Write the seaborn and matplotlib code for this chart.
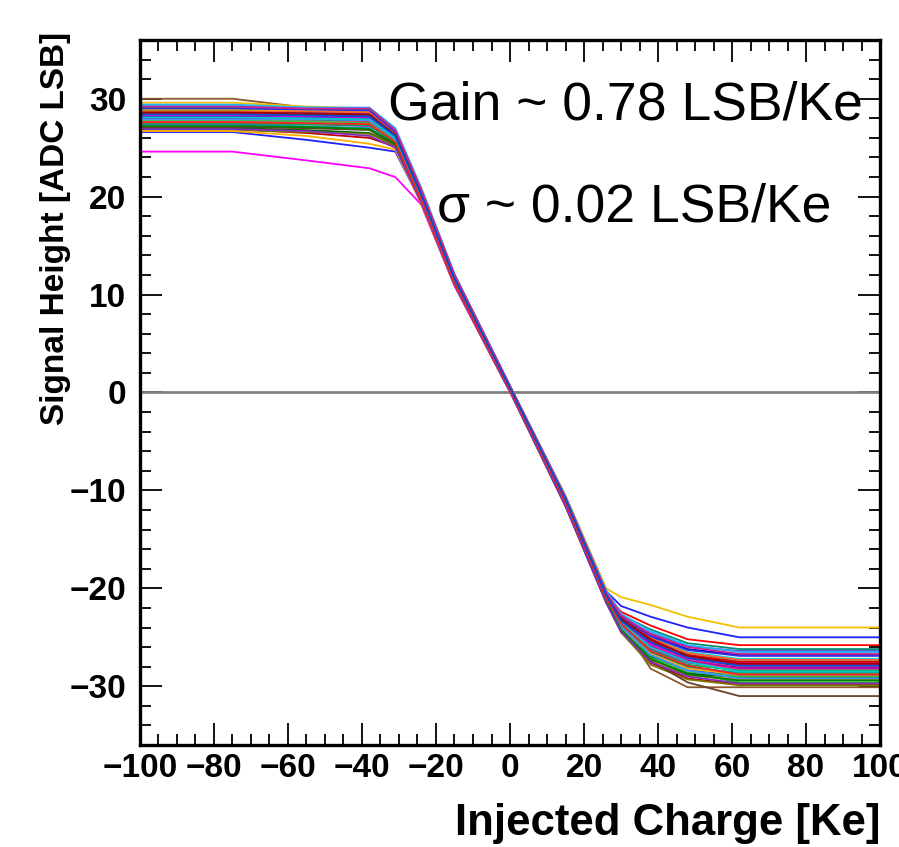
"""
Signal height vs injected charge, one curve per channel (ROOT style plot)
"""

import matplotlib
matplotlib.use('Agg')
import matplotlib.pyplot as plt
from matplotlib.ticker import MultipleLocator
import seaborn as sns
import pandas as pd


charge_nodes = [-100, -75, -55, -38, -31, -24, -15, 0.5, 15, 26, 30, 38, 48, 62, 100]

# signal height [ADC LSB] per channel at those charges
hi_left = [30.0, 29.6, 28.3, 26.6, 28.8, 24.6, 29.3, 27.9, 28.6, 27.2,
           28.1, 27.6, 29.1, 26.9, 28.4, 27.4, 28.9, 27.0, 28.2, 27.7,
           29.4, 26.8, 28.5, 27.3, 28.0, 27.8, 28.7, 27.1, 29.0, 26.7,
           28.3, 27.5, 28.6, 27.9, 29.2, 27.2, 28.1, 26.9, 27.6, 28.4]
hi_mid = [29.1, 29.2, 28.3, 25.8, 28.7, 23.7, 29.1, 27.8, 28.6, 27.0,
          28.1, 27.5, 29.0, 26.5, 28.4, 27.4, 28.8, 26.8, 28.1, 27.7,
          29.1, 26.6, 28.4, 27.2, 28.0, 27.7, 28.7, 27.0, 28.9, 26.2,
          28.2, 27.4, 28.5, 27.9, 29.0, 27.1, 28.0, 26.7, 27.5, 28.3]
hi_knee = [28.9, 29.0, 28.2, 25.0, 28.6, 22.9, 29.0, 27.7, 28.5, 26.9,
           28.0, 27.4, 28.9, 26.0, 28.3, 27.2, 28.7, 26.5, 28.0, 27.6,
           29.1, 26.4, 28.3, 27.0, 27.9, 27.5, 28.6, 26.8, 28.8, 25.4,
           28.1, 27.3, 28.4, 27.8, 29.0, 26.9, 27.9, 26.2, 27.4, 28.2]
slope_top = [26.6, 26.9, 26.0, 24.6, 26.4, 22.0, 26.8, 25.7, 26.3, 25.4,
             26.0, 25.6, 26.7, 25.1, 26.2, 25.8, 26.5, 25.3, 26.0, 25.7,
             27.0, 25.2, 26.3, 25.5, 26.0, 25.7, 26.4, 25.3, 26.6, 24.8,
             26.1, 25.6, 26.3, 25.9, 26.8, 25.4, 26.0, 25.0, 25.6, 26.2]
slope_upper = [20.6, 20.9, 20.0, 19.4, 20.4, 19.2, 20.7, 19.8, 20.3, 19.5,
               20.1, 19.7, 20.6, 19.3, 20.2, 19.8, 20.5, 19.5, 20.0, 19.8,
               20.9, 19.4, 20.3, 19.6, 20.0, 19.8, 20.4, 19.5, 20.6, 19.3,
               20.1, 19.7, 20.3, 19.9, 20.7, 19.6, 20.0, 19.4, 19.7, 20.2]
mid_upper = [11.9, 12.1, 11.5, 11.0, 11.7, 10.9, 12.0, 11.3, 11.6, 11.1,
             11.5, 11.2, 11.9, 11.0, 11.6, 11.3, 11.8, 11.1, 11.4, 11.3,
             12.1, 11.0, 11.6, 11.2, 11.4, 11.3, 11.7, 11.1, 11.9, 11.0,
             11.5, 11.2, 11.6, 11.4, 12.0, 11.2, 11.4, 11.0, 11.2, 11.6]
zero_level = [0.2, 0.3, 0.0, -0.2, 0.1, -0.3, 0.3, 0.0, 0.1, -0.2,
              0.0, -0.1, 0.2, -0.3, 0.1, 0.0, 0.2, -0.2, 0.0, 0.0,
              0.3, -0.3, 0.1, -0.1, 0.0, 0.0, 0.1, -0.2, 0.2, -0.3,
              0.0, -0.1, 0.1, 0.0, 0.3, -0.1, 0.0, -0.3, -0.1, 0.1]
mid_lower = [-11.3, -10.5, -11.0, -10.8, -11.5, -11.1, -10.7, -11.3, -10.9, -11.6,
             -11.1, -11.3, -10.7, -11.6, -11.0, -11.2, -11.0, -11.5, -10.9, -11.2,
             -10.6, -11.6, -11.0, -11.3, -11.1, -11.4, -10.9, -11.5, -10.8, -11.5,
             -11.1, -11.2, -11.0, -11.3, -10.7, -11.5, -11.1, -11.6, -11.2, -10.9]
slope_lower = [-21.0, -20.0, -20.5, -20.3, -21.3, -20.9, -20.5, -21.1, -20.6, -21.4,
               -20.9, -21.1, -20.4, -21.4, -20.7, -21.0, -20.8, -21.3, -20.6, -21.0,
               -20.2, -21.4, -20.7, -21.1, -20.9, -21.2, -20.6, -21.4, -20.5, -21.3,
               -20.9, -21.0, -20.7, -21.1, -20.4, -21.3, -20.9, -21.5, -21.0, -20.7]
lo_knee = [-23.6, -20.9, -22.4, -21.8, -24.0, -23.2, -23.0, -23.8, -22.9, -24.3,
           -23.4, -23.9, -22.7, -24.4, -23.1, -23.7, -23.3, -24.2, -22.8, -23.6,
           -22.6, -24.5, -23.2, -23.8, -23.5, -24.1, -23.0, -24.3, -22.9, -24.0,
           -23.4, -23.7, -23.1, -23.9, -22.8, -24.2, -23.5, -24.4, -23.6, -23.3]
lo_step = [-28.2, -21.7, -23.8, -22.9, -26.8, -25.5, -25.0, -26.5, -24.6, -27.3,
           -25.6, -26.9, -24.2, -27.6, -25.3, -26.2, -25.8, -27.0, -24.8, -26.0,
           -24.4, -27.8, -25.4, -26.6, -25.9, -27.1, -25.1, -27.4, -24.9, -26.7,
           -25.7, -26.3, -25.2, -26.8, -24.7, -27.2, -26.0, -27.5, -26.4, -25.5]
lo_drift = [-30.1, -22.9, -25.2, -24.0, -28.6, -26.9, -26.5, -28.0, -25.9, -28.9,
            -27.0, -28.3, -25.6, -29.2, -26.7, -27.6, -27.3, -28.7, -26.2, -27.5,
            -25.8, -29.3, -26.8, -28.1, -27.4, -28.5, -26.6, -29.6, -26.3, -28.2,
            -27.2, -27.8, -26.9, -28.4, -26.0, -28.8, -27.5, -29.0, -27.9, -27.1]
lo_right = [-30.1, -24.0, -25.8, -25.0, -29.6, -27.6, -27.2, -28.7, -26.4, -29.3,
            -27.8, -28.9, -26.2, -29.8, -27.4, -28.2, -28.0, -29.1, -26.8, -28.3,
            -26.5, -29.9, -27.5, -28.6, -28.1, -29.0, -27.3, -31.0, -26.9, -28.8,
            -27.9, -28.4, -27.7, -29.2, -26.7, -29.4, -28.5, -29.7, -28.8, -27.9]

gain_text = 'Gain ~ 0.78 LSB/Ke'
sigma_text = '\u03c3 ~ 0.02 LSB/Ke'

# one colour per channel, ROOT-like
channel_colors = ['#8b5a2b', '#f0c000', '#ff0000', '#2020ff', '#00c000',
                  '#ff00ff', '#00e0e0', '#007a00', '#5a3fd8', '#ff8000',
                  '#d00060', '#1060ff', '#009070', '#c00000', '#30d0a0',
                  '#9020d0', '#e8d000', '#006400', '#0000b0', '#ff3080',
                  '#20b0ff', '#7a7a00', '#e00000', '#00a0a0', '#b000b0',
                  '#40c040', '#ff6030', '#6b4226', '#3030e0', '#ffb000',
                  '#e000e0', '#00b050', '#a00000', '#4090ff', '#d02090',
                  '#008000', '#00c8c8', '#8030c0', '#ff2020', '#0050d0']


node_values = [hi_left, hi_left, hi_mid, hi_knee, slope_top, slope_upper,
               mid_upper, zero_level, mid_lower, slope_lower, lo_knee,
               lo_step, lo_drift, lo_right, lo_right]

rows = []
for ch in range(len(hi_left)):
    for q, vals in zip(charge_nodes, node_values):
        rows.append({'channel': f'ch{ch:02d}', 'charge': q, 'signal': vals[ch]})
df = pd.DataFrame(rows)
palette = {f'ch{i:02d}': c for i, c in enumerate(channel_colors)}

sns.set_style('ticks')
plt.rcParams['font.family'] = ['Liberation Sans', 'DejaVu Sans']
plt.rcParams['font.weight'] = 'bold'
for key in ['text.color', 'axes.labelcolor', 'xtick.color', 'ytick.color',
            'xtick.labelcolor', 'ytick.labelcolor']:
    plt.rcParams[key] = 'black'

fig = plt.figure(figsize=(8.99, 8.47), dpi=100)
ax = fig.add_axes([0.1557, 0.1204, 0.8232, 0.8324])

ax.axhline(0, color='#7f7f7f', lw=2.0, zorder=1)
sns.lineplot(data=df, x='charge', y='signal', hue='channel', palette=palette,
             estimator=None, errorbar=None, legend=False, linewidth=1.3,
             ax=ax, zorder=2)

ax.set_xlim(-100, 100)
ax.set_ylim(-36, 36)
ax.xaxis.set_major_locator(MultipleLocator(20))
ax.xaxis.set_minor_locator(MultipleLocator(5))
ax.yaxis.set_major_locator(MultipleLocator(10))
ax.yaxis.set_minor_locator(MultipleLocator(2))
ax.tick_params(which='both', direction='in', top=True, right=True,
               width=1.3, color='black')
ax.tick_params(which='major', length=16, labelsize=24)
ax.tick_params(axis='x', which='major', pad=6)
ax.tick_params(axis='y', which='major', pad=10)
ax.tick_params(which='minor', length=8)
for s in ax.spines.values():
    s.set_linewidth(2.4)
    s.set_color('black')

ax.set_xlabel('Injected Charge [Ke]', fontsize=31.5, fontweight='bold')
ax.xaxis.set_label_coords(1.0, -0.128)
ax.xaxis.label.set_ha('right')
ax.xaxis.label.set_va('baseline')
ax.set_ylabel('Signal Height [ADC LSB]', fontsize=24, fontweight='bold')
ax.yaxis.set_label_coords(-0.135, 1.012)
ax.yaxis.label.set_ha('right')
ax.yaxis.label.set_va('top')

ax.text(0.335, 0.887, gain_text, transform=ax.transAxes, fontsize=38.5,
        fontweight='normal', ha='left', va='baseline')
ax.text(0.401, 0.742, sigma_text, transform=ax.transAxes, fontsize=38.5,
        fontweight='normal', ha='left', va='baseline')

plt.savefig('out.png', dpi=100)
